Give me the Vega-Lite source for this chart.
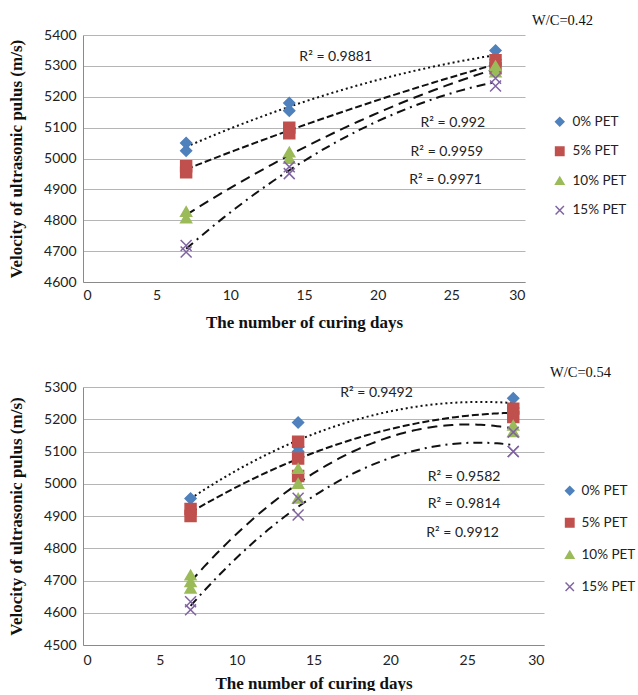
{
  "$schema": "https://vega.github.io/schema/vega-lite/v6.json",
  "padding": {"left": 7, "top": 12, "right": 0, "bottom": 0},
  "background": "white",
  "spacing": 34,
  "config": {
    "view": {"stroke": null},
    "axis": {"labelFont": "Lato", "labelFontSize": 14, "labelColor": "#222", "labelOverlap": false, "titleFont": "Liberation Serif", "titleFontSize": 17, "titleFontWeight": "bold", "titleColor": "#111", "domainColor": "#8a8a8a", "ticks": false, "gridColor": "#b5b5b5"},
    "legend": {"labelFont": "Lato", "labelFontSize": 13.5, "labelColor": "#222", "padding": 0},
    "title": {"font": "Liberation Serif", "fontSize": 14.5, "fontWeight": "normal", "color": "#111", "anchor": "end", "frame": "group"}
  },
  "datasets": {
    "p42": [
      {"day": 7, "v": 5050, "series": "0% PET"}, {"day": 7, "v": 5025, "series": "0% PET"},
      {"day": 14, "v": 5180, "series": "0% PET"}, {"day": 14, "v": 5155, "series": "0% PET"},
      {"day": 28, "v": 5350, "series": "0% PET"}, {"day": 28, "v": 5320, "series": "0% PET"},
      {"day": 7, "v": 4975, "series": "5% PET"}, {"day": 7, "v": 4955, "series": "5% PET"},
      {"day": 14, "v": 5100, "series": "5% PET"}, {"day": 14, "v": 5082, "series": "5% PET"},
      {"day": 28, "v": 5318, "series": "5% PET"}, {"day": 28, "v": 5292, "series": "5% PET"},
      {"day": 7, "v": 4828, "series": "10% PET"}, {"day": 7, "v": 4807, "series": "10% PET"},
      {"day": 14, "v": 5021, "series": "10% PET"}, {"day": 14, "v": 5000, "series": "10% PET"},
      {"day": 28, "v": 5300, "series": "10% PET"}, {"day": 28, "v": 5280, "series": "10% PET"},
      {"day": 7, "v": 4718, "series": "15% PET"}, {"day": 7, "v": 4697, "series": "15% PET"},
      {"day": 14, "v": 4973, "series": "15% PET"}, {"day": 14, "v": 4951, "series": "15% PET"},
      {"day": 28, "v": 5260, "series": "15% PET"}, {"day": 28, "v": 5235, "series": "15% PET"}
    ],
    "p54": [
      {"day": 7, "v": 4954, "series": "0% PET"},
      {"day": 14, "v": 5190, "series": "0% PET"}, {"day": 14, "v": 5100, "series": "0% PET"}, {"day": 14, "v": 5115, "series": "0% PET"},
      {"day": 28, "v": 5265, "series": "0% PET"}, {"day": 28, "v": 5235, "series": "0% PET"},
      {"day": 7, "v": 4922, "series": "5% PET"}, {"day": 7, "v": 4900, "series": "5% PET"},
      {"day": 14, "v": 5130, "series": "5% PET"}, {"day": 14, "v": 5078, "series": "5% PET"}, {"day": 14, "v": 5024, "series": "5% PET"},
      {"day": 28, "v": 5233, "series": "5% PET"}, {"day": 28, "v": 5207, "series": "5% PET"},
      {"day": 7, "v": 4717, "series": "10% PET"}, {"day": 7, "v": 4696, "series": "10% PET"}, {"day": 7, "v": 4676, "series": "10% PET"},
      {"day": 14, "v": 5047, "series": "10% PET"}, {"day": 14, "v": 5001, "series": "10% PET"}, {"day": 14, "v": 4955, "series": "10% PET"},
      {"day": 28, "v": 5181, "series": "10% PET"}, {"day": 28, "v": 5161, "series": "10% PET"},
      {"day": 7, "v": 4634, "series": "15% PET"}, {"day": 7, "v": 4609, "series": "15% PET"},
      {"day": 14, "v": 4955, "series": "15% PET"}, {"day": 14, "v": 4903, "series": "15% PET"},
      {"day": 28, "v": 5160, "series": "15% PET"}, {"day": 28, "v": 5100, "series": "15% PET"}, {"day": 28, "v": 5100, "series": "15% PET"}
    ],
    "r42": [
      {"day": 17.15, "v": 5329, "label": "R² = 0.9881"},
      {"day": 25.1, "v": 5115, "label": "R² = 0.992"},
      {"day": 24.7, "v": 5021, "label": "R² = 0.9959"},
      {"day": 24.6, "v": 4930, "label": "R² = 0.9971"}
    ],
    "r54": [
      {"day": 19.1, "v": 5280, "label": "R² = 0.9492"},
      {"day": 24.8, "v": 5020, "label": "R² = 0.9582"},
      {"day": 24.8, "v": 4937, "label": "R² = 0.9814"},
      {"day": 24.7, "v": 4848, "label": "R² = 0.9912"}
    ]
  },
  "resolve": {"scale": {"fill": "independent", "stroke": "independent", "shape": "independent", "strokeDash": "independent"}, "legend": {"fill": "independent", "stroke": "independent", "shape": "independent"}},
  "vconcat": [
    {
      "width": 442,
      "height": 247,
      "title": {"text": "W/C=0.42", "dx": 68, "offset": 0},
      "encoding": {
        "x": {"field": "day", "type": "quantitative", "scale": {"domain": [0, 30]}, "axis": {"values": [0, 5, 10, 15, 20, 25, 30], "grid": false, "title": "The number of curing days", "labelPadding": 6, "titlePadding": 12}},
        "y": {"field": "v", "type": "quantitative", "scale": {"domain": [4600, 5400]}, "axis": {"values": [4600, 4700, 4800, 4900, 5000, 5100, 5200, 5300, 5400], "format": "d", "title": "Velocity of ultrasonic pulus (m/s)", "labelPadding": 7, "titlePadding": 18}}
      },
      "layer": [
        {
          "data": {"name": "p42"},
          "transform": [{"regression": "v", "on": "day", "groupby": ["series"], "method": "poly", "order": 2, "extent": [7, 28]}],
          "mark": {"type": "line", "color": "#111", "strokeWidth": 2},
          "encoding": {
            "strokeDash": {"field": "series", "type": "nominal", "scale": {"domain": ["15% PET", "10% PET", "5% PET", "0% PET"], "range": [[9, 5, 2, 5], [10, 6], [7, 3], [2, 3]]}, "legend": null}
          }
        },
        {
          "data": {"name": "p42"},
          "mark": {"type": "point", "filled": true, "opacity": 1, "size": 120, "strokeWidth": 1.5},
          "encoding": {
            "fill": {"field": "series", "type": "nominal", "scale": {"domain": ["0% PET", "5% PET", "10% PET", "15% PET"], "range": ["#4F81BD", "#C0504D", "#9BBB59", "#8064A2"]}, "legend": {"title": null, "orient": "none", "legendX": 470, "legendY": 80, "rowPadding": 14.5, "symbolSize": 70, "symbolStrokeWidth": 1.5, "labelOffset": 6}},
            "stroke": {"field": "series", "type": "nominal", "scale": {"domain": ["0% PET", "5% PET", "10% PET", "15% PET"], "range": ["#4F81BD", "#C0504D", "#9BBB59", "#8064A2"]}, "legend": {"title": null, "orient": "none", "legendX": 470, "legendY": 80, "rowPadding": 14.5, "symbolSize": 70, "symbolStrokeWidth": 1.5, "labelOffset": 6}},
            "shape": {"field": "series", "type": "nominal", "scale": {"domain": ["0% PET", "5% PET", "10% PET", "15% PET"], "range": ["diamond", "square", "triangle-up", "M-1,-1L1,1M-1,1L1,-1"]}, "legend": {"title": null, "orient": "none", "legendX": 470, "legendY": 80, "rowPadding": 14.5, "symbolSize": 70, "symbolStrokeWidth": 1.5, "labelOffset": 6}}
          }
        },
        {
          "data": {"name": "r42"},
          "mark": {"type": "text", "font": "Lato", "fontSize": 14, "color": "#222"},
          "encoding": {
            "text": {"field": "label", "type": "nominal"}
          }
        }
      ]
    },
    {
      "width": 461,
      "height": 258,
      "title": {"text": "W/C=0.54", "dx": 67, "offset": 0},
      "encoding": {
        "x": {"field": "day", "type": "quantitative", "scale": {"domain": [0, 30]}, "axis": {"values": [0, 5, 10, 15, 20, 25, 30], "grid": false, "title": "The number of curing days", "labelPadding": 8, "titlePadding": 8}},
        "y": {"field": "v", "type": "quantitative", "scale": {"domain": [4500, 5300]}, "axis": {"values": [4500, 4600, 4700, 4800, 4900, 5000, 5100, 5200, 5300], "format": "d", "title": "Velocity of ultrasonic pulus (m/s)", "labelPadding": 7, "titlePadding": 18}}
      },
      "layer": [
        {
          "data": {"name": "p54"},
          "transform": [{"regression": "v", "on": "day", "groupby": ["series"], "method": "poly", "order": 2, "extent": [7, 28]}],
          "mark": {"type": "line", "color": "#111", "strokeWidth": 2},
          "encoding": {
            "strokeDash": {"field": "series", "type": "nominal", "scale": {"domain": ["15% PET", "10% PET", "5% PET", "0% PET"], "range": [[9, 5, 2, 5], [10, 6], [7, 3], [2, 3]]}, "legend": null}
          }
        },
        {
          "data": {"name": "p54"},
          "mark": {"type": "point", "filled": true, "opacity": 1, "size": 120, "strokeWidth": 1.5},
          "encoding": {
            "fill": {"field": "series", "type": "nominal", "scale": {"domain": ["0% PET", "5% PET", "10% PET", "15% PET"], "range": ["#4F81BD", "#C0504D", "#9BBB59", "#8064A2"]}, "legend": {"title": null, "orient": "none", "legendX": 480, "legendY": 97, "rowPadding": 17, "symbolSize": 70, "symbolStrokeWidth": 1.5, "labelOffset": 5}},
            "stroke": {"field": "series", "type": "nominal", "scale": {"domain": ["0% PET", "5% PET", "10% PET", "15% PET"], "range": ["#4F81BD", "#C0504D", "#9BBB59", "#8064A2"]}, "legend": {"title": null, "orient": "none", "legendX": 480, "legendY": 97, "rowPadding": 17, "symbolSize": 70, "symbolStrokeWidth": 1.5, "labelOffset": 5}},
            "shape": {"field": "series", "type": "nominal", "scale": {"domain": ["0% PET", "5% PET", "10% PET", "15% PET"], "range": ["diamond", "square", "triangle-up", "M-1,-1L1,1M-1,1L1,-1"]}, "legend": {"title": null, "orient": "none", "legendX": 480, "legendY": 97, "rowPadding": 17, "symbolSize": 70, "symbolStrokeWidth": 1.5, "labelOffset": 5}}
          }
        },
        {
          "data": {"name": "r54"},
          "mark": {"type": "text", "font": "Lato", "fontSize": 14, "color": "#222"},
          "encoding": {
            "text": {"field": "label", "type": "nominal"}
          }
        }
      ]
    }
  ]
}
